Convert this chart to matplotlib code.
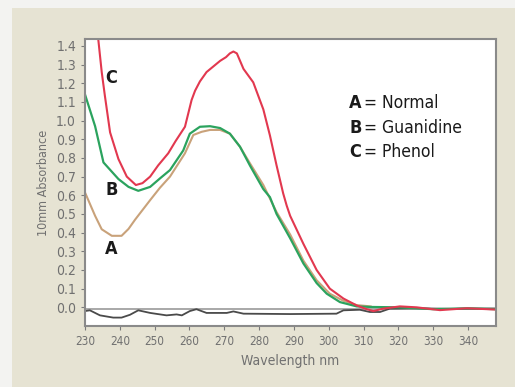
import matplotlib.pyplot as plt
from matplotlib.patches import Rectangle

# curve C - phenol (red)
wl_c = [233.0, 233.8, 234.8, 235.7, 237.2, 239.6, 242.0, 244.6, 246.5, 248.7, 251.0, 253.9,
        256.0, 258.7, 260.6, 261.6, 263.0, 264.9, 268.8, 270.5, 271.6, 272.6, 273.6, 275.5,
        278.3, 281.2, 283.1, 285.0, 286.9, 287.9, 288.9, 292.7, 296.5, 300.3, 304.2, 308.0,
        310.9, 312.8, 315.6, 320.4, 325.2, 331.9, 339.6, 348.0]
abs_c = [1.62, 1.437, 1.26, 1.134, 0.937, 0.794, 0.70, 0.655, 0.665, 0.70, 0.76, 0.825,
         0.89, 0.967, 1.11, 1.16, 1.21, 1.26, 1.32, 1.34, 1.36, 1.37, 1.36, 1.277,
         1.205, 1.06, 0.92, 0.76, 0.61, 0.545, 0.49, 0.34, 0.20, 0.10, 0.047, 0.01,
         -0.01, -0.02, -0.007, 0.005, 0.0, -0.015, -0.005, -0.012]

# curve B - guanidine (green)
wl_b = [230.0, 232.9, 235.3, 239.6, 242.5, 245.3, 248.7, 251.5, 254.4, 258.2, 260.1, 263.0,
        265.9, 268.8, 271.6, 274.5, 277.4, 281.2, 283.1, 285.0, 288.9, 292.7, 296.5, 299.4,
        303.2, 308.0, 312.0, 320.0, 330.0, 340.0, 348.0]
abs_b = [1.14, 0.97, 0.776, 0.687, 0.645, 0.624, 0.645, 0.69, 0.735, 0.84, 0.93, 0.967,
         0.97, 0.96, 0.93, 0.86, 0.758, 0.633, 0.59, 0.50, 0.37, 0.235, 0.13, 0.073,
         0.028, 0.005, 0.002, 0.0, -0.01, -0.005, -0.01]

# curve A - normal (tan)
wl_a = [230.0, 232.9, 234.8, 237.7, 240.5, 242.5, 244.4, 248.7, 251.5, 254.4, 258.7, 261.1,
        263.5, 265.9, 268.8, 271.6, 274.5, 277.4, 281.2, 285.0, 288.9, 292.7, 296.5, 300.3,
        304.2, 308.0, 312.0]
abs_a = [0.615, 0.49, 0.418, 0.383, 0.383, 0.42, 0.47, 0.574, 0.64, 0.70, 0.825, 0.923,
         0.94, 0.95, 0.95, 0.93, 0.86, 0.77, 0.655, 0.51, 0.39, 0.25, 0.145, 0.073,
         0.035, 0.012, 0.005]

# blank (dark grey)
wl_0 = [230.0, 231.4, 234.3, 238.1, 240.5, 242.9, 245.3, 248.7, 253.4, 256.3, 257.8, 260.1,
        262.0, 264.9, 270.7, 272.6, 275.5, 288.9, 302.2, 304.2, 308.9, 311.8, 314.7, 317.5,
        325.0, 335.0, 348.0]
abs_0 = [-0.02, -0.016, -0.043, -0.055, -0.055, -0.04, -0.016, -0.03, -0.043, -0.038, -0.043, -0.02,
         -0.01, -0.03, -0.03, -0.022, -0.034, -0.036, -0.034, -0.016, -0.013, -0.025, -0.025, -0.007,
         -0.005, -0.008, -0.006]

labels = ["A", "B", "C"]
names = ["Normal", "Guanidine", "Phenol"]

fig = plt.figure(figsize=(5.15, 3.87), dpi=100, facecolor="#f3f3f1")
fig.patches.append(Rectangle((12 / 515, 0), 1, 1 - 8 / 387, transform=fig.transFigure,
                             facecolor="#e6e3d3", edgecolor="none", zorder=-10))

ax = fig.add_axes([85 / 515, 1 - 326 / 387, 411 / 515, 287 / 387])
ax.set_facecolor("white")

ax.axhline(-0.01, color="#9a9a9a", lw=1.2, zorder=1)
ax.plot(wl_0, abs_0, color="#4a4a4a", lw=1.3)
ax.plot(wl_a, abs_a, color="#c9a27a", lw=1.5)
ax.plot(wl_b, abs_b, color="#2ba35e", lw=1.6)
ax.plot(wl_c, abs_c, color="#e2384f", lw=1.5)

ax.set_xlim(230, 348)
ax.set_ylim(-0.1, 1.437)
ax.set_xticks(range(230, 341, 10))
ax.set_yticks([i / 10 for i in range(15)])
ax.set_yticklabels([f"{i / 10:.1f}" for i in range(15)])

cond = dict(family="DejaVu Sans", stretch="condensed")
for lab in ax.get_yticklabels():
    lab.update(cond)
    lab.set_fontsize(10)
for lab in ax.get_xticklabels():
    lab.update(cond)
    lab.set_fontsize(8.5)
ax.tick_params(colors="#7a7a7a", labelcolor="#707070", length=3, width=0.8)
for s in ax.spines.values():
    s.set_color("#8a8a8a")
    s.set_linewidth(1.5)

ax.set_xlabel("Wavelength nm", fontsize=10, color="#707070", **cond)
ax.set_ylabel("10mm Absorbance", fontsize=9, color="#707070", labelpad=4, **cond)

# curve letters
for lab, y in zip(labels, [0.31, 0.631, 1.227]):
    ax.text(237.6, y, lab, fontsize=13, fontweight="bold", color="#1a1a1a",
            ha="center", va="center", **cond)

# key
for i, (lab, nm) in enumerate(zip(labels, names)):
    y = 1.093 - i * 0.13
    ax.text(305.8, y, lab, fontsize=13, fontweight="bold", color="#1a1a1a",
            va="center", **cond)
    ax.text(310.0, y, "= " + nm, fontsize=12.5, color="#1a1a1a", va="center", **cond)

fig.savefig("out.png", dpi=100, facecolor=fig.get_facecolor())
